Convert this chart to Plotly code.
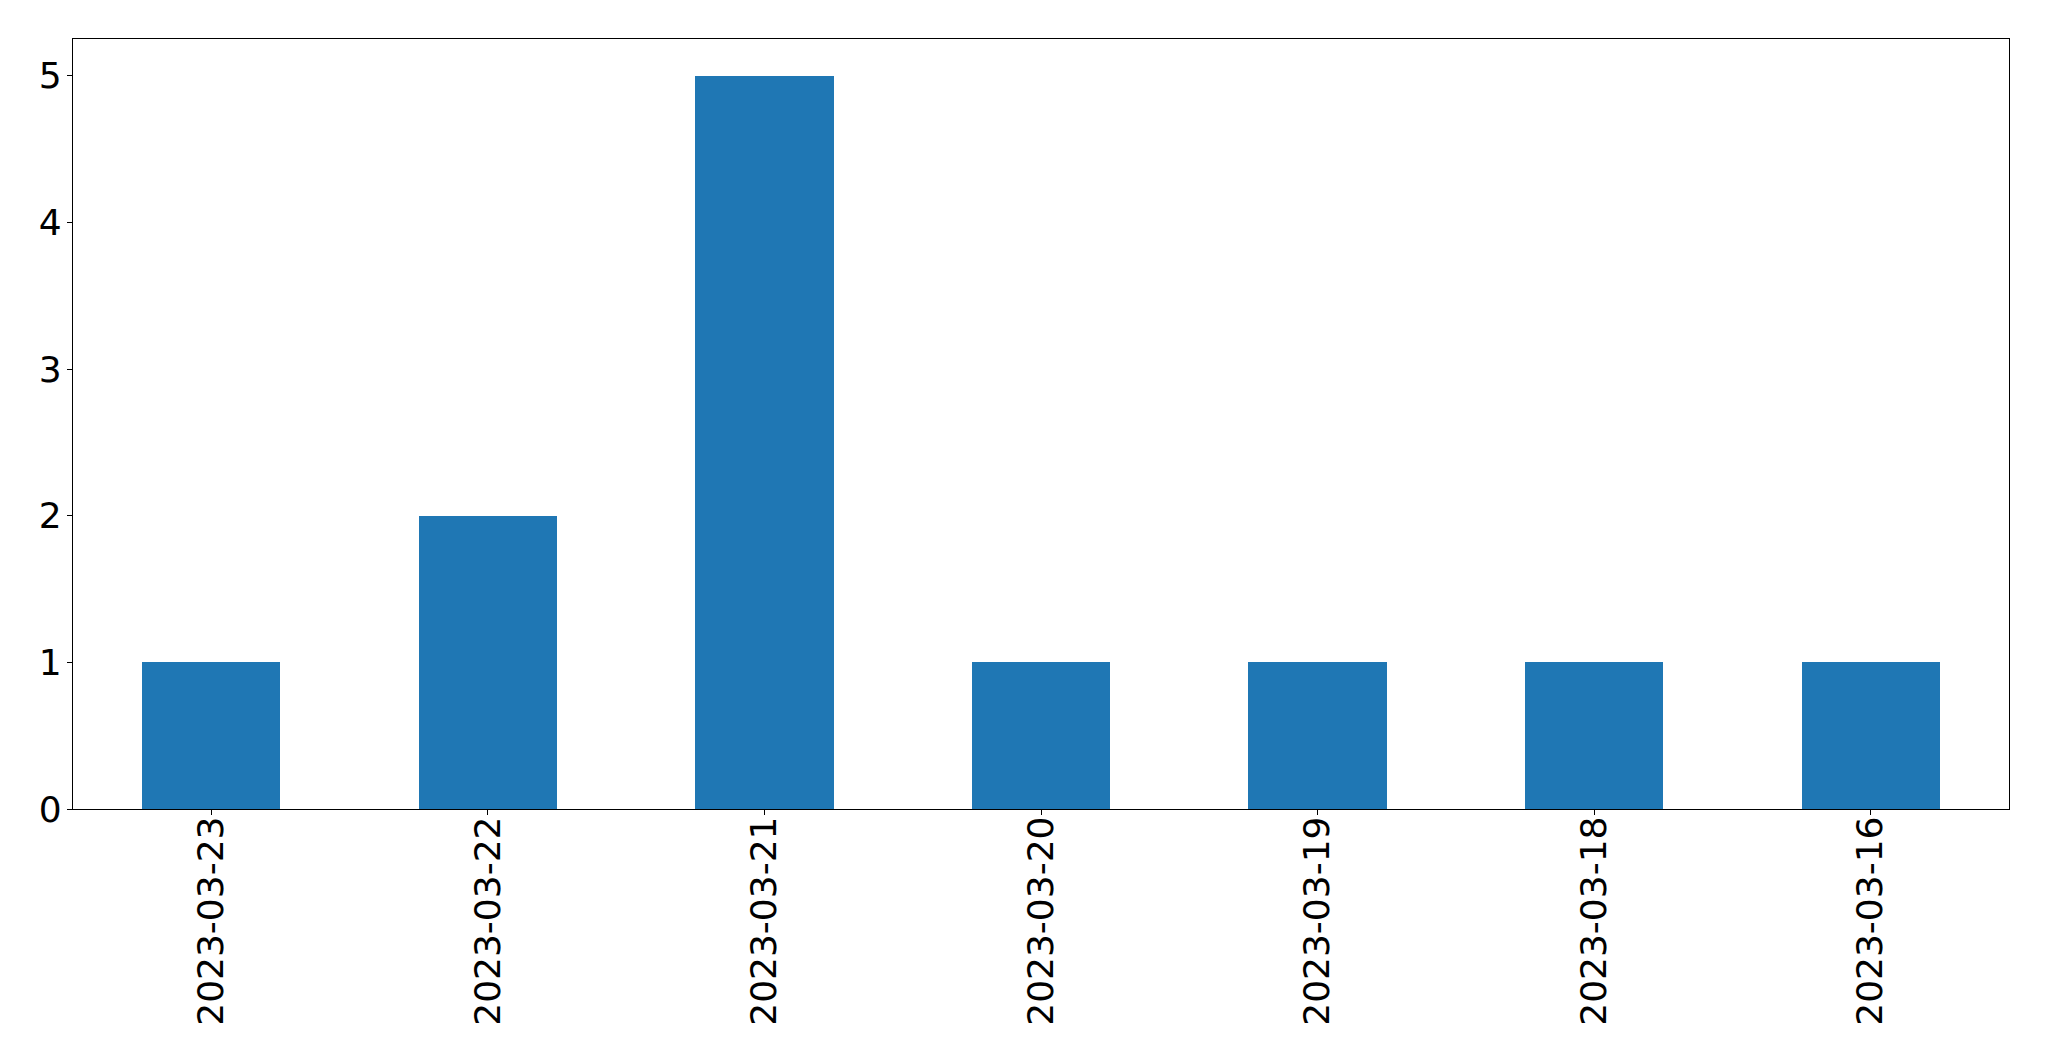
import plotly.graph_objects as go

categories = ["2023-03-23", "2023-03-22", "2023-03-21", "2023-03-20", "2023-03-19", "2023-03-18", "2023-03-16"]
values = [1, 2, 5, 1, 1, 1, 1]
y_ticks = [0, 1, 2, 3, 4, 5]

fig = go.Figure(go.Bar(x=categories, y=values, width=0.5, marker=dict(color="#1f77b4", line=dict(width=0))))

fig.update_layout(
    template="none",
    width=2033, height=1045,
    margin=dict(l=65, r=32, t=31, b=244, pad=0),
    paper_bgcolor="white", plot_bgcolor="white",
    font=dict(family="DejaVu Sans", size=36, color="black"),
    showlegend=False,
    bargap=0,
)
fig.update_xaxes(
    type="category", range=[-0.5, len(categories) - 0.5], automargin=False,
    tickangle=-90, ticks="outside", ticklen=5, tickwidth=1.3, tickcolor="black",
    showline=True, linecolor="black", linewidth=1.3, mirror=True,
    showgrid=False, zeroline=False, ticklabelstandoff=-13,
)
fig.update_yaxes(
    range=[0, 5.25], tickvals=y_ticks, automargin=False,
    ticks="outside", ticklen=5, tickwidth=1.3, tickcolor="black",
    showline=True, linecolor="black", linewidth=1.3, mirror=True,
    showgrid=False, zeroline=False, ticklabelstandoff=-2,
)

fig.write_html("out.html")
